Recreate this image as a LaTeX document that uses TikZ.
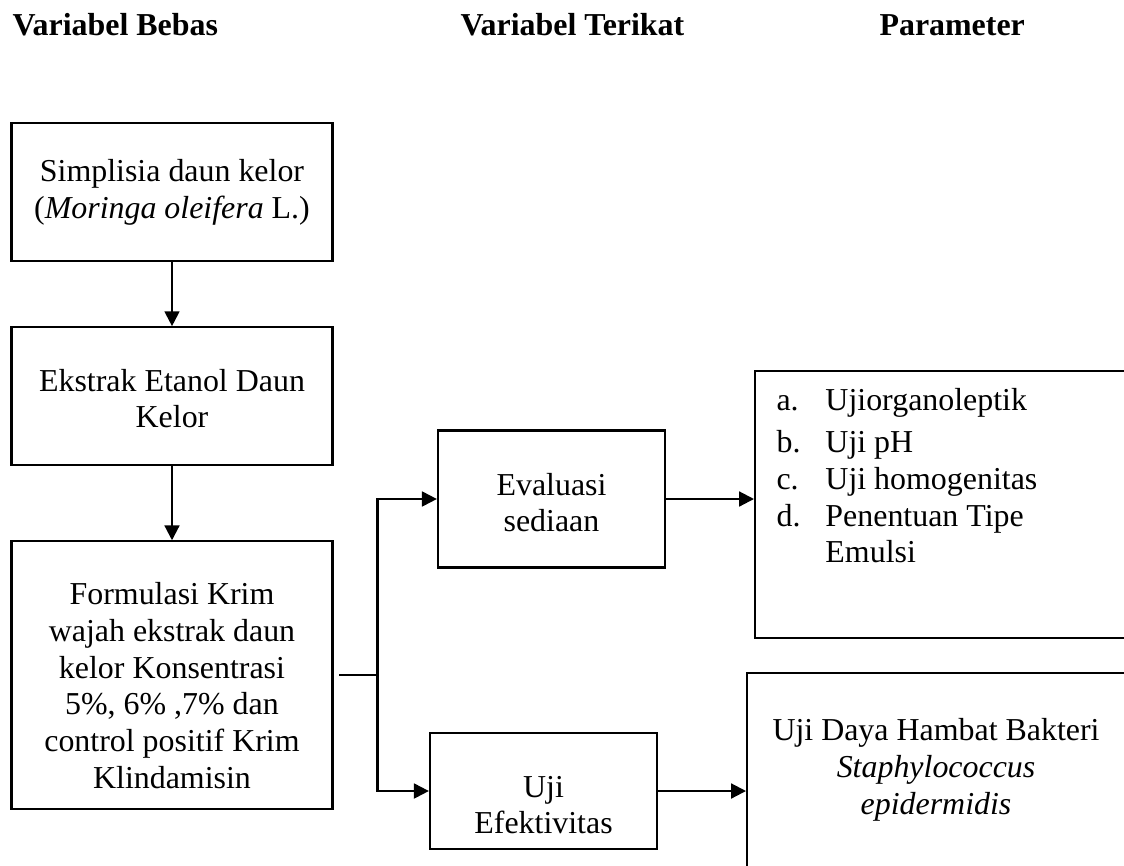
\documentclass[tikz,border=0pt]{standalone}
\usepackage{fontspec}
\setmainfont{Liberation Serif}
\usepackage{tikz}
\usetikzlibrary{positioning, arrows.meta}
\tikzset{
    box/.style = {rectangle, draw = black, line width = 0.8pt, inner sep = 0pt},
    txt/.style = {align = center, inner sep = 0pt, font = \fontsize{12}{13.8}\selectfont},
    head/.style = {anchor = base west, inner sep = 0pt, font = \fontsize{12}{13.8}\selectfont\bfseries},
    line/.style = {line width = 0.8pt},
    arrow/.style = {line width = 0.8pt, -{Triangle[length = 5.6pt, width = 5.6pt]}}
}

\begin{document}
\begin{tikzpicture}[x = 0.376pt, y = -0.376pt]
        \useasboundingbox (0, 0) rectangle (1124, 865);
        \clip (0, 0) rectangle (1124, 865);
        % headers
        \node [head] (h1) at (12, 36) {Variabel Bebas};
        \node [head] (h2) at (460, 36) {Variabel Terikat};
        \node [head] (h3) at (879, 36) {Parameter};
        % left column
        \node [box, minimum width = 120.7pt, minimum height = 51.9pt] (1) at (172, 192) {};
        \node [box, minimum width = 120.7pt, minimum height = 51.9pt, below = 24.1pt of 1] (2) {};
        \node [box, minimum width = 120.7pt, minimum height = 100.8pt, below = 27.8pt of 2] (3) {};
        \node [txt] (t1) at (1) {Simplisia daun kelor\\(\textit{Moringa oleifera} L.)};
        \node [txt, yshift = -0.9pt] (t2) at (2) {Ekstrak Etanol Daun\\Kelor};
        \node [txt, yshift = -3.8pt] (t3) at (3) {Formulasi Krim\\wajah ekstrak daun\\kelor Konsentrasi\\5\%, 6\% ,7\% dan\\control positif Krim\\Klindamisin};
        % middle column
        \node [box, minimum width = 85.4pt, minimum height = 51.5pt] (4) at (551.5, 499) {};
        \node [box, minimum width = 85.4pt, minimum height = 43.6pt] (5) at (543.5, 791) {};
        \node [txt, yshift = -1.3pt] (t4) at (4) {Evaluasi\\sediaan};
        \node [txt, yshift = -5.3pt] (t5) at (5) {Uji\\Efektivitas};
        % parameter boxes, cut at the right edge
        \node [box, anchor = north west, minimum width = 188pt, minimum height = 100.4pt] (p1) at (754, 370) {};
        \node [box, anchor = north west, minimum width = 188pt, minimum height = 112.8pt] (p2) at (746, 672) {};
        \node [txt, anchor = base west, align = left] (tp1) at (776, 410) {\begin{tabular}[t]{@{}p{18.4pt}@{}l@{}}
            a. & Ujiorganoleptik\\[2.3pt]
            b. & Uji pH\\
            c. & Uji homogenitas\\
            d. & Penentuan Tipe\\
               & Emulsi
        \end{tabular}};
        \node [txt] (tp2) at (936, 770) {Uji Daya Hambat Bakteri\\\textit{Staphylococcus}\\\textit{epidermidis}};
        % connectors
        \coordinate [right = 16.5pt of 3] (s);
        \draw [arrow] (1) -- (2);
        \draw [arrow] (2) -- (3);
        \draw [line, shorten <= 2.2pt] (3) -- (s);
        \draw [arrow] (s) |- (4);
        \draw [arrow] (s) |- (5);
        \draw [arrow] (4) -- (4 -| p1.west);
        \draw [arrow] (5) -- (5 -| p2.west);
    \end{tikzpicture}
\end{document}
